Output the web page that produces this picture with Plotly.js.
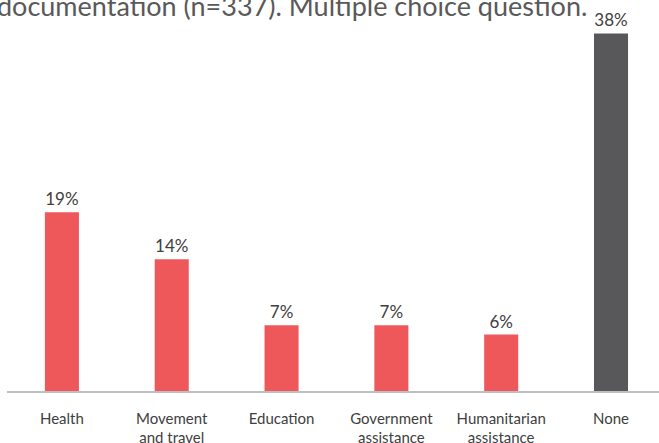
<!DOCTYPE html>
<html>
<head>
<meta charset="utf-8">
<script src="https://cdn.plot.ly/plotly-3.0.1.min.js"></script>
<style>html,body{margin:0;padding:0;background:#fff;}#chart{width:659px;height:443px;}</style>
</head>
<body>
<div id="chart"></div>
<script>
const categories = ["Health", "Movement<br>and travel", "Education", "Government<br>assistance", "Humanitarian<br>assistance", "None"];
const values = [19, 14, 7, 7, 6, 38];
const valueLabels = ["19%", "14%", "7%", "7%", "6%", "38%"];
const titleText = "documentation (n=337). Multiple choice question.";

const barColors = categories.map(c => c === "None" ? "#58585A" : "#EE585B");

const trace = {
  type: "bar",
  x: categories,
  y: values,
  text: valueLabels,
  textposition: "outside",
  cliponaxis: false,
  textfont: {family: "Lato, 'Open Sans', sans-serif", size: 17, color: "#404040"},
  marker: {color: barColors},
  hoverinfo: "none"
};

const layout = {
  width: 659,
  height: 443,
  margin: {l: 7, r: 0, t: 0, b: 52},
  paper_bgcolor: "#ffffff",
  plot_bgcolor: "#ffffff",
  bargap: 0.69,
  showlegend: false,
  font: {family: "Lato, 'Open Sans', sans-serif", color: "#404040"},
  xaxis: {
    type: "category",
    range: [-0.5, 5.437],
    showgrid: false,
    zeroline: false,
    showline: true,
    linecolor: "#BFBFBF",
    linewidth: 1.5,
    ticks: "",
    ticklabelstandoff: 13,
    tickfont: {size: 15, color: "#404040"},
    fixedrange: true
  },
  yaxis: {
    range: [0, 41.56],
    visible: false,
    showgrid: false,
    zeroline: false,
    fixedrange: true
  },
  annotations: [{
    text: titleText,
    xref: "paper", yref: "paper",
    x: 0, y: 1,
    xanchor: "left", yanchor: "middle",
    xshift: -12, yshift: -5,
    showarrow: false,
    font: {size: 27, color: "#595959", family: "Lato, 'Open Sans', sans-serif"}
  }]
};

Plotly.newPlot("chart", [trace], layout, {displayModeBar: false, staticPlot: true});
</script>
</body>
</html>
